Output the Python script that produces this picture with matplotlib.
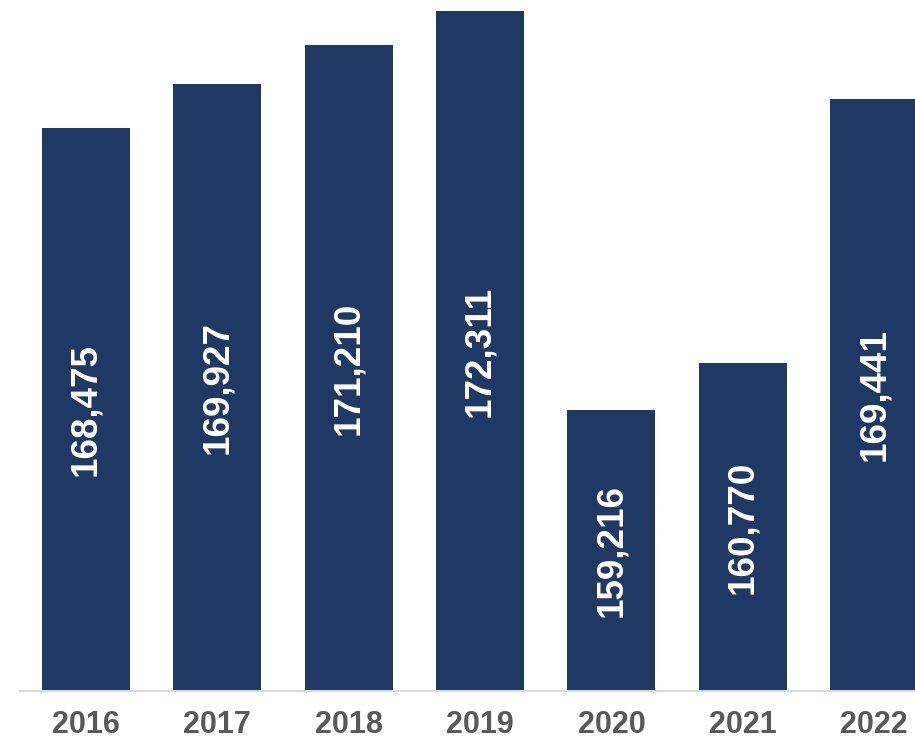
import matplotlib
matplotlib.use("Agg")
import matplotlib.pyplot as plt

years = ["2016", "2017", "2018", "2019", "2020", "2021", "2022"]
values = [168475, 169927, 171210, 172311, 159216, 160770, 169441]
labels = ["168,475", "169,927", "171,210", "172,311", "159,216", "160,770", "169,441"]

bar_color = "#1F3864"
y_min, y_max = 150000, 172685

fig = plt.figure(figsize=(9.15, 7.43), dpi=100)
ax = fig.add_axes([20/915, 1 - 691/743, 1 - 20/915, 691/743])

x = list(range(len(years)))
ax.bar(x, [v - y_min for v in values], bottom=y_min, width=0.67, color=bar_color)
ax.set_ylim(y_min, y_max)
ax.set_xlim(-0.5, 6.31)

for xi, v, lab in zip(x, values, labels):
    ax.text(xi, (y_min + v) / 2, lab, rotation=90, ha="center", va="center",
            color="white", fontsize=26.5, fontweight="bold", family="Liberation Sans")

for s in ["top", "right", "left"]:
    ax.spines[s].set_visible(False)
ax.spines["bottom"].set_color("#D9D9D9")
ax.spines["bottom"].set_linewidth(1.5)
ax.set_yticks([])
ax.set_xticks(x)
ax.set_xticklabels(years, fontsize=22, fontweight="bold", color="#595959", family="Liberation Sans")
ax.tick_params(axis="x", length=0, pad=14)

fig.savefig("out.png", dpi=100)
